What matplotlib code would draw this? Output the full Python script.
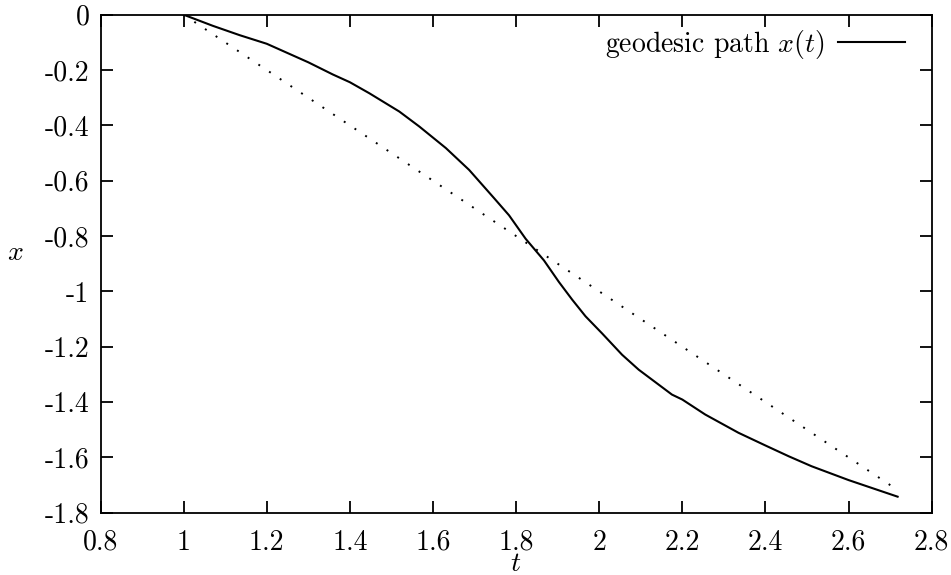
import numpy as np
import matplotlib
matplotlib.use("Agg")
import matplotlib.pyplot as plt

# geodesic path
path_t = [1.0, 1.07, 1.135, 1.2, 1.3, 1.359, 1.4, 1.447, 1.519, 1.567, 1.631, 1.687,
          1.747, 1.783, 1.823, 1.867, 1.903, 1.935, 1.967, 2.007, 2.055, 2.095, 2.175,
          2.2, 2.255, 2.335, 2.4, 2.456, 2.511, 2.6, 2.655, 2.718]
path_x = [0.0, -0.040, -0.074, -0.105, -0.172, -0.216, -0.244, -0.284, -0.350, -0.404,
          -0.482, -0.561, -0.663, -0.725, -0.810, -0.888, -0.966, -1.030, -1.090, -1.152,
          -1.229, -1.283, -1.373, -1.391, -1.445, -1.511, -1.557, -1.596, -1.632, -1.682,
          -1.710, -1.742]

# straight reference line (dotted)
ref_t = [1.0, 2.718]
ref_x = [0.0, -1.718]

xticks = [0.8, 1.0, 1.2, 1.4, 1.6, 1.8, 2.0, 2.2, 2.4, 2.6, 2.8]
xticklabels = ["0.8", "1", "1.2", "1.4", "1.6", "1.8", "2", "2.2", "2.4", "2.6", "2.8"]
yticks = [0.0, -0.2, -0.4, -0.6, -0.8, -1.0, -1.2, -1.4, -1.6, -1.8]
yticklabels = ["0", "-0.2", "-0.4", "-0.6", "-0.8", "-1", "-1.2", "-1.4", "-1.6", "-1.8"]

plt.rcParams["font.family"] = "serif"
plt.rcParams["font.serif"] = ["cmr10", "DejaVu Serif"]
plt.rcParams["mathtext.fontset"] = "cm"
plt.rcParams["axes.unicode_minus"] = False
fs = 20

fig = plt.figure(figsize=(9.51, 5.75), dpi=100)
ax = fig.add_axes([0.1057, 0.1083, 0.874, 0.8661])

ax.plot(path_t, path_x, color="black", lw=1.5, label=r"geodesic path $x(t)$")
ax.plot(ref_t, ref_x, color="black", lw=1.4, linestyle=(0, (1, 5.6)),
        dash_capstyle="butt")

ax.set_xlim(0.8, 2.8)
ax.set_ylim(-1.8, 0)
ax.set_xticks(xticks)
ax.set_xticklabels(xticklabels, fontsize=fs)
ax.set_yticks(yticks)
ax.set_yticklabels(yticklabels, fontsize=fs)
ax.tick_params(direction="in", length=8.5, width=1.3, top=True, right=True)
ax.tick_params(axis="x", pad=12)
ax.tick_params(axis="y", pad=8)
for sp in ax.spines.values():
    sp.set_linewidth(1.3)

ax.set_xlabel(r"$t$", fontsize=fs, va="center")
ax.xaxis.set_label_coords(0.5, -0.102)
ax.set_ylabel(r"$x$", fontsize=fs, rotation=0, va="center", ha="center")
ax.yaxis.set_label_coords(-0.103, 0.521)

ax.legend(loc="upper right", bbox_to_anchor=(0.993, 1.015), frameon=False,
          markerfirst=False, fontsize=fs, handlelength=2.4, handletextpad=0.5,
          borderaxespad=0.35)

fig.savefig("out.png", dpi=100)
